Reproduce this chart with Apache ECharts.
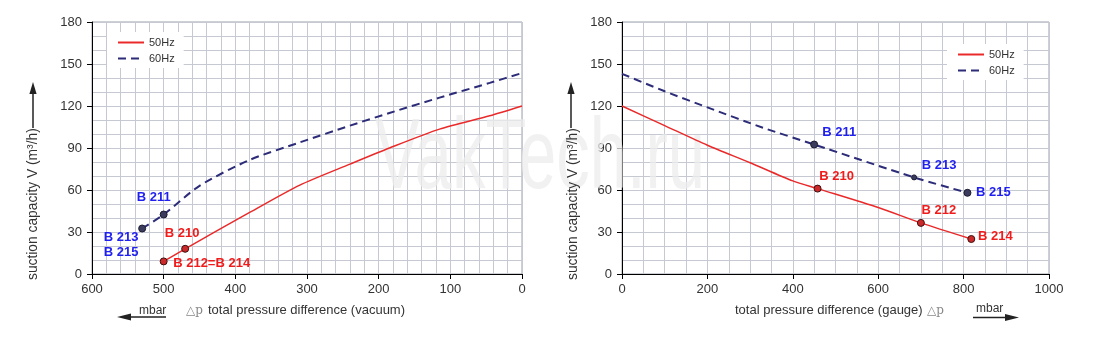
<!DOCTYPE html>
<html>
<head>
<meta charset="utf-8">
<script src="https://cdn.jsdelivr.net/npm/echarts@6/dist/echarts.min.js"></script>
<style>
  html, body { margin: 0; padding: 0; background: #fff; }
  #chart { width: 1097px; height: 337px; }
</style>
</head>
<body>
<div id="chart"></div>
<script>
// Suction capacity curves, vacuum (left) and gauge pressure (right)
const seriesNames = ['50Hz', '60Hz'];

// Vacuum side: [pressure difference mbar, capacity m³/h]
const vacuum50 = [[500, 9], [470, 18], [426, 30.8], [380, 44], [310, 63.5], [240, 78.5], [185, 90], [115, 103.5], [45, 113], [0, 120]];
const vacuum60 = [[530, 32.5], [500, 42.5], [450, 63], [380, 81.5], [310, 94], [240, 106], [185, 115], [115, 126], [45, 136.5], [0, 143.5]];

// Gauge side
const gauge50 = [[0, 120], [100, 106], [200, 92], [300, 79.5], [400, 66.5], [458, 61], [600, 47.5], [700, 36.5], [818, 25]];
const gauge60 = [[0, 143], [100, 130.5], [200, 119], [330, 104.5], [450, 92.5], [684, 69], [809, 58]];

// Model operating points: [x, y, model]
const vacuumPts50 = [[500, 9, 'B 212=B 214'], [470, 18, 'B 210']];
const vacuumPts60 = [[530, 32.5, 'B 213\nB 215'], [500, 42.5, 'B 211']];
const gaugePts50 = [[458, 61, 'B 210'], [700, 36.5, 'B 212'], [818, 25, 'B 214']];
const gaugePts60 = [[450, 92.5, 'B 211'], [684, 69, 'B 213'], [809, 58, 'B 215']];

// Axis ranges
const vacuumTicks = [0, 100, 200, 300, 400, 500, 600];
const gaugeTicks = [0, 200, 400, 600, 800, 1000];
const capacityTicks = [0, 30, 60, 90, 120, 150, 180];

// Text
const yTitle = 'suction capacity V (m³/h)';
const vacuumTitle = 'total pressure difference (vacuum)';
const gaugeTitle = 'total pressure difference (gauge)';
const deltaP = '△p';
const unit = 'mbar';
const watermark = 'VakTech.ru';

// ---- styling ----
const FONT = 'Arial, "Liberation Sans", sans-serif';
const RED = '#ea2a2a';
const NAVY = '#2c2c78';
const GRID_LINE = '#c6c9d2';

const labelOffsets = {
  left: { 'B 212=B 214': [48, 2], 'B 210': [-3, -15], 'B 213\nB 215': [-21, 16], 'B 211': [-10, -17] },
  right: { 'B 210': [19, -12], 'B 212': [18, -12], 'B 214': [24, -3], 'B 211': [25, -12], 'B 213': [25, -12], 'B 215': [26, 0] }
};

function pointData(pts, side, smallSet) {
  return pts.map(p => ({
    value: p,
    symbolSize: smallSet && smallSet.indexOf(p[2]) >= 0 ? 5 : 7,
    label: { offset: labelOffsets[side][p[2]] }
  }));
}

function xAxisCfg(gridIndex, max, interval, minorSplit, inverse) {
  return {
    type: 'value', gridIndex, min: 0, max, interval, inverse,
    axisLine: { show: true, onZero: false, lineStyle: { color: '#000', width: 1 } },
    axisTick: { show: true, length: 5, lineStyle: { color: '#000' } },
    axisLabel: { color: '#333', fontSize: 13, fontFamily: FONT, margin: 9, formatter: v => String(v) },
    splitLine: { show: true, lineStyle: { color: GRID_LINE, width: 1 } },
    minorTick: { show: false, splitNumber: minorSplit },
    minorSplitLine: { show: true, lineStyle: { color: GRID_LINE, width: 1 } }
  };
}

function yAxisCfg(gridIndex) {
  return {
    type: 'value', gridIndex, min: capacityTicks[0], max: capacityTicks[capacityTicks.length - 1],
    interval: capacityTicks[1] - capacityTicks[0],
    axisLine: { show: true, onZero: false, lineStyle: { color: '#000', width: 1 } },
    axisTick: { show: true, length: 5, lineStyle: { color: '#000' } },
    axisLabel: { color: '#333', fontSize: 13, fontFamily: FONT, margin: 10 },
    splitLine: { show: true, lineStyle: { color: GRID_LINE, width: 1 } },
    minorTick: { show: false, splitNumber: 3 },
    minorSplitLine: { show: true, lineStyle: { color: GRID_LINE, width: 1 } }
  };
}

function curve(name, data, idx, color, dashed) {
  return {
    name, type: 'line', xAxisIndex: idx, yAxisIndex: idx, data,
    smooth: 0.25, symbol: 'none', z: 3,
    lineStyle: { color, width: dashed ? 2 : 1.5, type: dashed ? [8, 5] : 'solid' },
    itemStyle: { color }
  };
}

function points(name, pts, idx, side, fill, border, textColor, smallSet) {
  return {
    name, type: 'scatter', xAxisIndex: idx, yAxisIndex: idx, z: 4,
    data: pointData(pts, side, smallSet),
    itemStyle: { color: fill, borderColor: border, borderWidth: 1, opacity: 1 },
    label: {
      show: true, position: 'inside', formatter: p => p.value[2],
      color: textColor, fontSize: 13, fontWeight: 'bold', fontFamily: FONT,
      lineHeight: 15, align: 'center', verticalAlign: 'middle'
    },
    emphasis: { disabled: true }
  };
}

function arrow(x1, y1, x2, y2, head) {
  // shaft from (x1,y1) to tip (x2,y2)
  const dx = x2 - x1, dy = y2 - y1, len = Math.hypot(dx, dy);
  const ux = dx / len, uy = dy / len;
  const bx = x2 - ux * head, by = y2 - uy * head;
  const w = 3.6;
  return [
    { type: 'line', shape: { x1, y1, x2: bx, y2: by }, style: { stroke: '#222', lineWidth: 1.5 }, z: 10 },
    { type: 'polygon', shape: { points: [[x2, y2], [bx - uy * w, by + ux * w], [bx + uy * w, by - ux * w]] },
      style: { fill: '#222' }, z: 10 }
  ];
}

function text(x, y, str, opts) {
  return {
    type: 'text', x, y, z: 10,
    style: Object.assign({ text: str, fill: '#333', font: '13px ' + FONT, textAlign: 'left', textVerticalAlign: 'middle' }, opts || {})
  };
}

const graphics = [
  // watermark
  { type: 'text', x: 540, y: 160, z: 1, scaleX: 0.67, scaleY: 1, silent: true,
    style: { text: watermark, fill: 'rgba(236,236,236,0.75)', font: '100px ' + FONT, textAlign: 'center', textVerticalAlign: 'middle' } },
  // y titles
  { type: 'text', x: 33, y: 280, rotation: Math.PI / 2, z: 10,
    style: { text: yTitle, fill: '#333', font: '13.8px ' + FONT, textAlign: 'left', textVerticalAlign: 'middle' } },
  { type: 'text', x: 573, y: 280, rotation: Math.PI / 2, z: 10,
    style: { text: yTitle, fill: '#333', font: '13.8px ' + FONT, textAlign: 'left', textVerticalAlign: 'middle' } },
  ...arrow(33, 128, 33, 82, 12),
  ...arrow(571, 128, 571, 82, 12),
  // vacuum axis title
  text(139, 311, unit, { font: '12px ' + FONT }),
  ...arrow(166, 317, 117, 317, 14),
  text(186, 311, deltaP, { fill: '#888', font: '12px "DejaVu Serif", "Liberation Serif", serif' }),
  text(208, 310, vacuumTitle),
  // gauge axis title
  text(735, 310, gaugeTitle),
  text(927, 311, deltaP, { fill: '#888', font: '12px "DejaVu Serif", "Liberation Serif", serif' }),
  text(976, 309, unit, { font: '12px ' + FONT }),
  ...arrow(973, 317.5, 1019, 317.5, 14)
];

const legendCommon = {
  orient: 'vertical', data: seriesNames, itemWidth: 26, itemHeight: 11, itemGap: 5,
  backgroundColor: '#fff', padding: [5, 9, 4, 10],
  itemStyle: { color: 'transparent', borderColor: 'transparent', borderWidth: 0, opacity: 0 },
  textStyle: { color: '#333', fontSize: 11, fontFamily: FONT },
  selectedMode: false
};

const option = {
  animation: false,
  backgroundColor: '#fff',
  grid: [
    { left: 92, top: 22, width: 430, height: 252, show: true, borderColor: '#9aa0ab', borderWidth: 1, backgroundColor: 'transparent' },
    { left: 622, top: 22, width: 427, height: 252, show: true, borderColor: '#9aa0ab', borderWidth: 1, backgroundColor: 'transparent' }
  ],
  xAxis: [
    xAxisCfg(0, vacuumTicks[vacuumTicks.length - 1], vacuumTicks[1] - vacuumTicks[0], 5, true),
    xAxisCfg(1, gaugeTicks[gaugeTicks.length - 1], gaugeTicks[1] - gaugeTicks[0], 4, false)
  ],
  yAxis: [yAxisCfg(0), yAxisCfg(1)],
  legend: [
    Object.assign({ left: 107, top: 32 }, legendCommon),
    Object.assign({ left: 947, top: 44 }, legendCommon)
  ],
  graphic: graphics,
  series: [
    curve(seriesNames[0], vacuum50, 0, RED, false),
    curve(seriesNames[1], vacuum60, 0, NAVY, true),
    curve(seriesNames[0], gauge50, 1, RED, false),
    curve(seriesNames[1], gauge60, 1, NAVY, true),
    points('vacuum50pts', vacuumPts50, 0, 'left', '#cc2a2a', '#3d1010', '#f01c1c'),
    points('vacuum60pts', vacuumPts60, 0, 'left', '#3b3b5e', '#1b1b30', '#1f1ff0'),
    points('gauge50pts', gaugePts50, 1, 'right', '#cc2a2a', '#3d1010', '#f01c1c'),
    points('gauge60pts', gaugePts60, 1, 'right', '#3b3b5e', '#1b1b30', '#1f1ff0', ['B 213'])
  ]
};

const chart = echarts.init(document.getElementById('chart'), null, { renderer: 'canvas' });
chart.setOption(option);
</script>
</body>
</html>
